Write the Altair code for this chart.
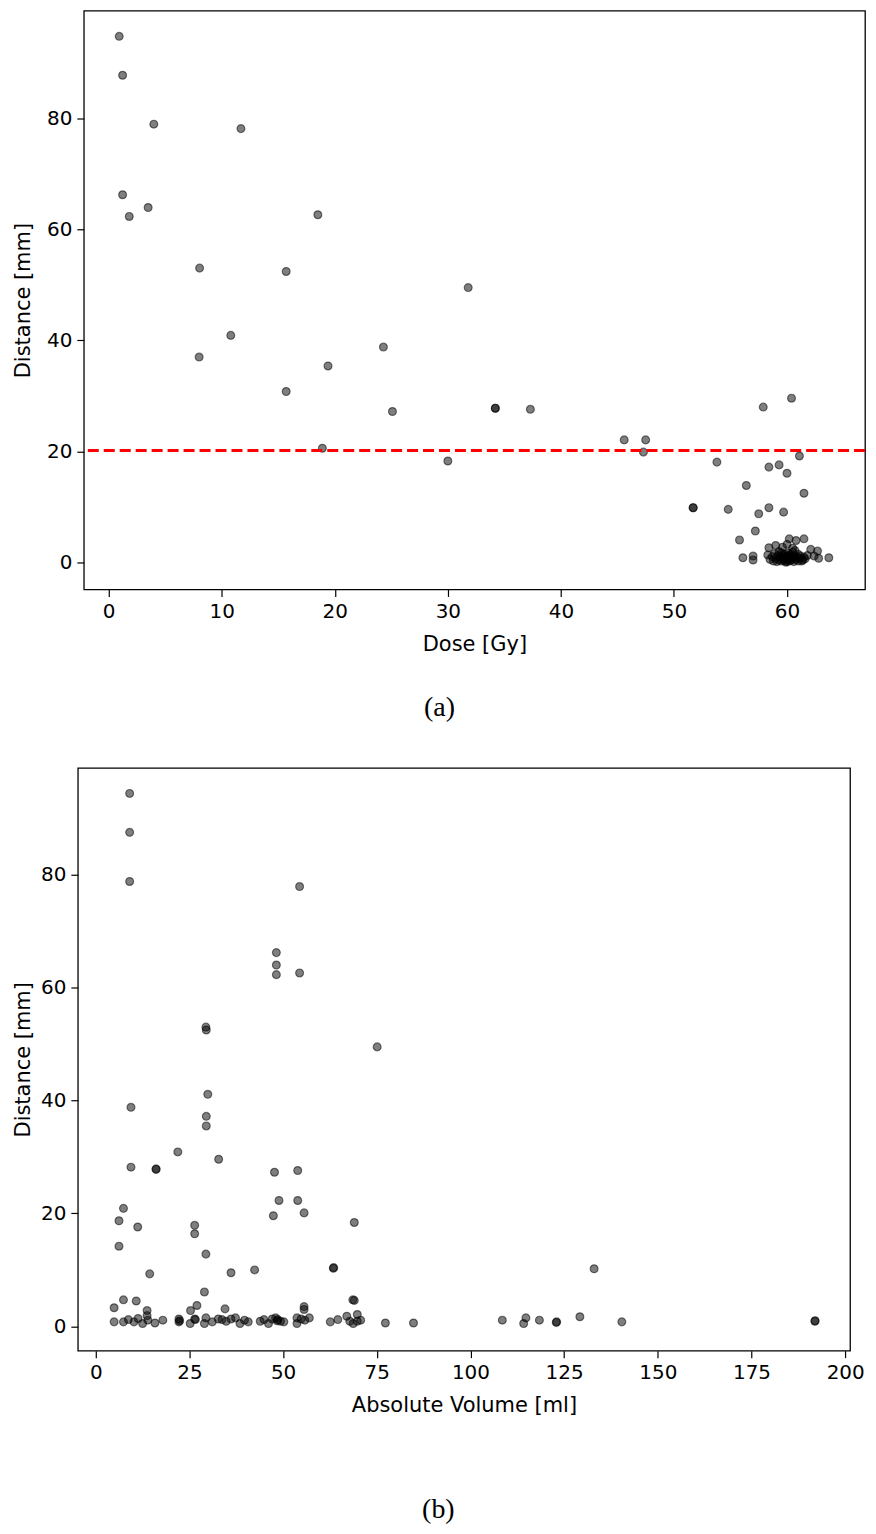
import altair as alt
import pandas as pd

# ---------------- Panel (a): Dose vs Distance ----------------
dose_a = [0.93, 1.23, 3.99, 11.7, 1.23, 3.49, 1.82, 18.5, 8.04, 15.7, 31.8, 10.8, 24.3, 8.0,
          19.4, 15.7, 60.4, 57.9, 34.2, 34.2, 37.3, 25.1, 45.6, 47.5, 18.9, 47.3, 61.1, 30.0,
          53.8, 59.3, 58.4, 60.0, 56.4, 61.5, 51.7, 51.7, 54.8, 58.4, 59.7, 57.5, 57.2, 55.8,
          60.2, 60.8, 61.5, 58.4, 59.0, 59.6, 60.0, 60.5, 62.1, 62.7, 56.1, 57.0, 57.0, 63.7,
          62.4, 62.8, 58.3, 61.3,
          58.5, 58.7, 58.8, 58.9, 59.0, 59.1, 59.2, 59.3, 59.4, 59.5, 59.5, 59.6, 59.7, 59.8,
          59.8, 59.9, 60.0, 60.0, 60.1, 60.1, 60.2, 60.3, 60.3, 60.4, 60.5, 60.5, 60.6, 60.7,
          60.8, 60.9, 61.0, 61.0, 61.1, 61.2, 61.4, 61.5, 61.6, 61.8, 59.3, 60.7, 59.9, 60.2,
          59.6, 60.4]
dist_a = [94.7, 87.7, 78.9, 78.1, 66.2, 63.9, 62.3, 62.6, 53.0, 52.4, 49.5, 40.9, 38.8, 37.0,
          35.4, 30.8, 29.6, 28.0, 27.8, 27.8, 27.6, 27.2, 22.1, 22.1, 20.6, 19.9, 19.2, 18.3,
          18.1, 17.6, 17.2, 16.1, 13.9, 12.5, 9.9, 9.9, 9.6, 9.9, 9.1, 8.8, 5.7, 4.1,
          4.3, 4.0, 4.3, 2.7, 3.1, 2.8, 3.3, 2.6, 2.4, 2.1, 0.9, 1.2, 0.5, 0.9,
          1.2, 0.8, 1.4, 0.3,
          0.6, 1.1, 0.3, 1.6, 0.8, 0.2, 1.3, 0.5, 1.0, 1.8, 0.3, 0.7, 1.2, 0.4,
          1.5, 0.9, 0.2, 1.1, 0.6, 1.7, 0.3, 1.0, 1.4, 0.5, 0.8, 1.9, 0.2, 1.2,
          0.6, 1.0, 0.3, 1.5, 0.8, 1.2, 0.5, 1.0, 0.7, 1.3, 2.0, 2.2, 0.1, 1.3,
          1.4, 0.9]
threshold_mm = [20.2]

# ---------------- Panel (b): Absolute Volume vs Distance ----------------
volume_b = [9.05, 9.05, 9.05, 54.4, 48.2, 48.2, 48.2, 54.4, 29.4, 29.5, 75.1, 29.9, 9.4, 29.5,
            29.5, 21.9, 32.8, 9.4, 16.1, 16.1, 47.7, 53.9, 48.9, 53.9, 7.4, 55.6, 47.4, 6.2,
            69.0, 26.4, 11.2, 26.4, 6.2, 29.4, 133.0, 63.4, 63.5, 42.4, 36.1, 14.4, 29.0, 7.4,
            68.6, 69.0, 10.8, 27.0, 55.6, 4.9, 34.5, 55.6, 13.7, 25.3, 69.8, 13.7, 67.0, 129.2,
            4.9, 7.4, 8.7, 10.2, 11.3, 12.5, 13.9, 15.8, 17.9, 22.2, 22.2, 22.4, 25.2, 26.4,
            26.6, 29.0, 29.4, 31.1, 32.7, 33.7, 34.8, 36.1, 37.3, 38.5, 39.7, 40.7, 43.9, 44.9,
            46.1, 47.1, 48.0, 48.4, 48.6, 49.3, 50.2, 53.7, 53.7, 54.8, 55.8, 57.0, 62.6, 64.6,
            67.8, 68.7, 69.8, 70.7, 77.3, 84.8, 108.5, 114.8, 114.2, 118.4, 122.9, 123.0, 140.4,
            191.9, 192.0]
dist_b = [94.4, 87.5, 78.8, 77.9, 66.2, 64.0, 62.3, 62.6, 53.0, 52.5, 49.5, 41.1, 38.8, 37.2,
          35.5, 30.9, 29.6, 28.2, 27.9, 27.8, 27.3, 27.6, 22.3, 22.3, 20.9, 20.1, 19.6, 18.7,
          18.4, 17.9, 17.6, 16.4, 14.2, 12.8, 10.2, 10.3, 10.4, 10.0, 9.5, 9.3, 6.1, 4.7,
          4.7, 4.6, 4.5, 3.7, 3.5, 3.3, 3.1, 3.0, 2.8, 2.8, 2.1, 1.9, 1.8, 1.7,
          0.8, 0.8, 1.2, 0.8, 1.4, 0.5, 1.1, 0.6, 1.1, 1.3, 0.8, 1.0, 0.5, 1.3,
          1.2, 0.5, 1.5, 0.8, 1.3, 1.2, 0.9, 1.3, 1.5, 0.5, 1.1, 0.8, 0.9, 1.2,
          0.5, 1.3, 1.5, 1.0, 1.2, 0.9, 0.8, 1.5, 0.5, 1.3, 1.1, 1.5, 0.8, 1.2,
          0.9, 0.5, 0.9, 1.1, 0.6, 0.6, 1.1, 1.5, 0.5, 1.1, 0.7, 0.8, 0.8,
          0.9, 1.0]

x_ticks_a = [0, 10, 20, 30, 40, 50, 60]
x_ticks_b = [0, 25, 50, 75, 100, 125, 150, 175, 200]
y_ticks = [0, 20, 40, 60, 80]

df_a = pd.DataFrame({"dose": dose_a, "dist": dist_a})
df_b = pd.DataFrame({"volume": volume_b, "dist": dist_b})
df_t = pd.DataFrame({"t": threshold_mm})


def dots(df, xfield, xdomain, xticks, xtitle, ydomain, ytitle_pad):
    return alt.Chart(df).mark_circle(
        size=62, fill="black", fillOpacity=0.5, stroke="black",
        strokeOpacity=0.5, strokeWidth=1.2
    ).encode(
        x=alt.X(f"{xfield}:Q",
                scale=alt.Scale(domain=xdomain, nice=False, zero=False),
                axis=alt.Axis(values=xticks, title=xtitle)),
        y=alt.Y("dist:Q",
                scale=alt.Scale(domain=ydomain, nice=False, zero=False),
                axis=alt.Axis(values=y_ticks, title="Distance [mm]",
                              titlePadding=ytitle_pad)),
    )


def caption(text, offset):
    return alt.TitleParams(text, orient="bottom", anchor="middle", frame="bounds",
                           font="Liberation Serif", fontSize=28, fontWeight="normal",
                           color="black", offset=offset)


def spacer():
    # invisible 1px cell so that each panel's left edge is set by its own axis width
    return alt.Chart(pd.DataFrame({"v": [0]})).mark_point(size=0, opacity=0).encode(
        x=alt.value(0.5), y=alt.value(0.5)
    ).properties(width=1, height=1, view=alt.ViewBackground(stroke="transparent"))


pts_a = dots(df_a, "dose", [-2.2, 66.9], x_ticks_a, "Dose [Gy]", [-4.8, 99.3], 13)
rule_a = alt.Chart(df_t).mark_rule(color="#ff0000", strokeWidth=3, strokeDash=[11, 5]).encode(
    y=alt.Y("t:Q")
)
chart_a = alt.layer(pts_a, rule_a).properties(width=783, height=580,
                                               title=caption("(a)", 40))

chart_b = dots(df_b, "volume", [-4.78, 201.3], x_ticks_b, "Absolute Volume [ml]",
               [-4.3, 98.9], 7).properties(width=774, height=584,
                                           title=caption("(b)", 81))

row_a = alt.hconcat(spacer(), chart_a, spacing=0)
row_b = alt.hconcat(spacer(), chart_b, spacing=0)

chart = alt.vconcat(row_a, row_b, spacing=44).properties(
    padding={"left": 0, "top": 0, "right": 0, "bottom": 0}
).configure_view(
    stroke="black", strokeWidth=1.3
).configure_axis(
    domain=False, grid=False, tickColor="black", tickSize=7, tickWidth=1.2,
    labelFont="DejaVu Sans", labelFontSize=20, labelColor="black", labelPadding=5,
    titleFont="DejaVu Sans", titleFontSize=21, titleFontWeight="normal", titleColor="black"
).configure_axisX(titlePadding=12)

chart.save("out.html", embed_options={"renderer": "svg", "actions": False})
